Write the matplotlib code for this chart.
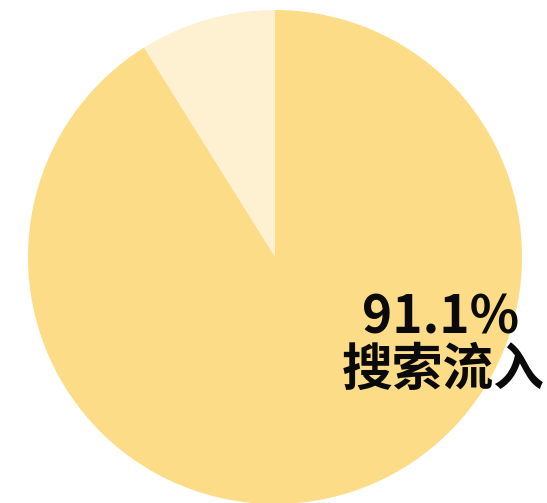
import matplotlib
matplotlib.use("Agg")
import matplotlib.pyplot as plt

plt.rcParams['font.family'] = ['Noto Sans CJK SC', 'DejaVu Sans']

labels = ["其他", "搜索流入"]
shares = [8.9, 91.1]
colors = ["#FEF1D2", "#FDDC87"]

fig = plt.figure(figsize=(5.47, 5.03), dpi=100)
fig.patch.set_facecolor("white")
W, H = 547, 503
cx, cy, r = 275, 257, 247
ax = fig.add_axes([(cx - r) / W, (H - cy - r) / H, 2 * r / W, 2 * r / H])
ax.pie(shares, colors=colors, startangle=90, counterclock=True,
       radius=1.0, wedgeprops=dict(linewidth=0))
ax.set_xlim(-1, 1)
ax.set_ylim(-1, 1)
ax.set_aspect("auto")
ax.axis("off")

ax.text(0.672, -0.245, f"{shares[1]}%", ha="center", va="center",
        fontsize=37, fontweight="heavy", color="#0a0a0a")
ax.text(0.680, -0.458, labels[1], ha="center", va="center",
        fontsize=36.5, fontweight="heavy", color="#0a0a0a")

fig.savefig("out.png", dpi=100, facecolor="white")
